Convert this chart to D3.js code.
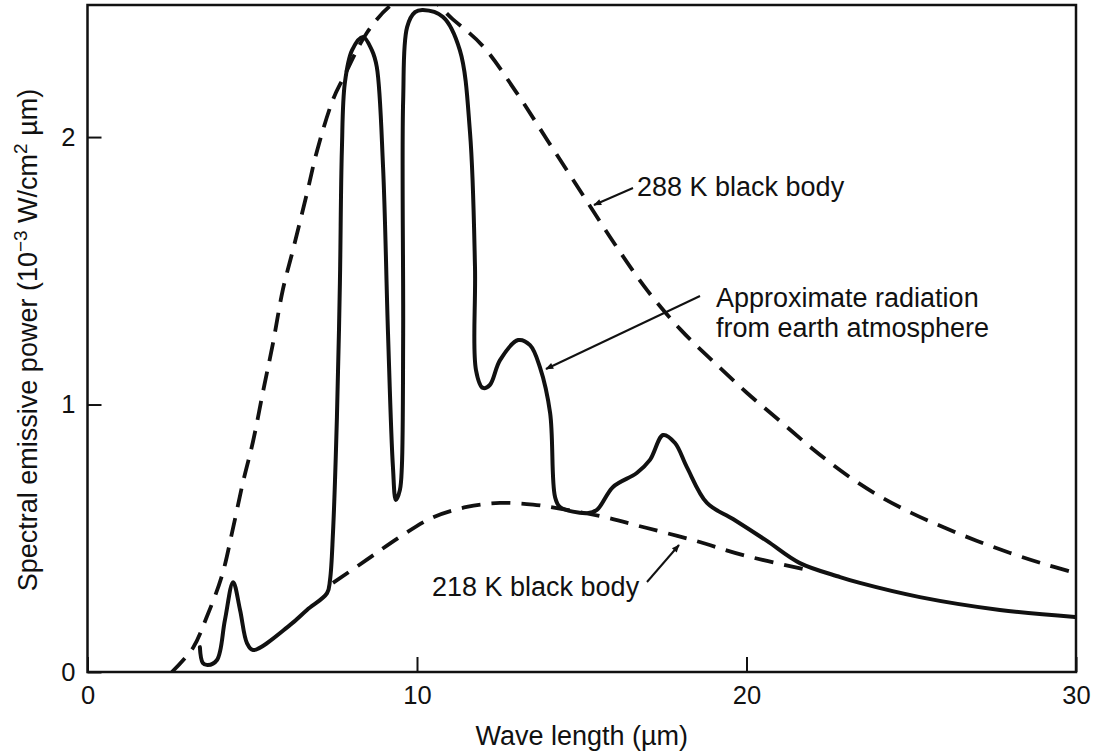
<!DOCTYPE html>
<html>
<head>
<meta charset="utf-8">
<script src="https://cdn.jsdelivr.net/npm/d3@7"></script>
<style>
  html, body { margin: 0; padding: 0; background: #fff; }
  svg { display: block; }
  text { font-family: "Liberation Sans", Arial, Helvetica, sans-serif; fill: #111; }
</style>
</head>
<body>
<svg id="chart" width="1096" height="752"></svg>
<script>
// ---- data ----
const xTicks = [0, 10, 20, 30];
const yTicks = [0, 1, 2];

const bb288Lambda = [2.56, 3.20, 3.6, 4.08, 4.42, 4.72, 5.02, 5.33, 5.63, 5.93, 6.24, 6.66, 6.97, 7.45, 7.76, 8.48, 9.18, 10.0, 11.09, 12.0, 13.0, 14.0, 15.0, 16.0, 17.0, 18.0, 19.0, 20.0, 21.0, 22.0, 23.0, 24.0, 25.0, 26.0, 27.0, 28.0, 29.0, 29.85];
const bb288Power  = [0.0, 0.09, 0.2, 0.36, 0.54, 0.71, 0.86, 1.05, 1.23, 1.43, 1.58, 1.79, 1.95, 2.14, 2.22, 2.39, 2.49, 2.55, 2.44, 2.34, 2.17, 1.98, 1.79, 1.60, 1.425, 1.28, 1.16, 1.045, 0.94, 0.835, 0.74, 0.66, 0.595, 0.54, 0.49, 0.445, 0.405, 0.375];

const bb218Lambda = [7.45, 8.48, 9.48, 10.48, 11.51, 12.52, 13.52, 14.04, 15.55, 16.86, 18.38, 19.9, 21.71];
const bb218Power  = [0.333, 0.42, 0.505, 0.578, 0.617, 0.632, 0.626, 0.617, 0.583, 0.542, 0.493, 0.437, 0.385];

const atmLambda = [3.41, 3.50, 3.65, 3.93, 4.17, 4.42, 4.63, 4.84, 5.02, 6.15, 6.66, 7.27, 7.36, 7.45, 7.57, 7.66, 7.72, 7.81, 8.03, 8.36, 8.63, 8.78, 8.97, 9.12, 9.27, 9.36, 9.48, 9.54, 9.58, 9.58, 9.70, 9.94, 10.18, 10.79, 11.30, 11.61, 11.76, 11.79, 12.00, 12.21, 12.52, 13.07, 13.43, 13.73, 14.04, 14.19, 14.34, 15.16, 15.46, 15.95, 16.67, 17.07, 17.47, 17.83, 18.19, 18.80, 19.59, 20.62, 21.62, 22.84, 23.44, 25.26, 27.69, 29.97];
const atmPower  = [0.093, 0.034, 0.026, 0.045, 0.194, 0.336, 0.232, 0.108, 0.082, 0.176, 0.232, 0.295, 0.344, 0.52, 0.953, 1.454, 1.951, 2.202, 2.325, 2.374, 2.325, 2.262, 1.888, 1.267, 0.766, 0.643, 0.68, 0.766, 1.267, 2.138, 2.411, 2.467, 2.475, 2.449, 2.325, 2.015, 1.514, 1.129, 1.062, 1.073, 1.166, 1.241, 1.222, 1.14, 0.968, 0.654, 0.617, 0.594, 0.606, 0.692, 0.744, 0.793, 0.886, 0.856, 0.766, 0.632, 0.572, 0.49, 0.407, 0.355, 0.333, 0.28, 0.232, 0.206];

const labels = {
  bb288: "288 K black body",
  bb218: "218 K black body",
  atm1: "Approximate radiation",
  atm2: "from earth atmosphere",
  xTitle: "Wave length (\u00b5m)"
};

// ---- layout ----
const L = 87.5, R = 1076, T = 5, B = 672;
const svg = d3.select("#chart");
const x = d3.scaleLinear().domain([0, 30]).range([L, R]);
const y = d3.scaleLinear().domain([0, 2.49]).range([B, T + 1]);

const defs = svg.append("defs");
defs.append("clipPath").attr("id", "plotclip")
  .append("rect").attr("x", L).attr("y", T).attr("width", R - L).attr("height", B - T);
defs.append("marker").attr("id", "arrow").attr("viewBox", "0 0 10 10")
  .attr("refX", 9).attr("refY", 5).attr("markerWidth", 11).attr("markerHeight", 8)
  .attr("markerUnits", "userSpaceOnUse").attr("orient", "auto")
  .append("path").attr("d", "M0,1 L10,5 L0,9 Z").attr("fill", "#111");

// axes
const xAxis = d3.axisBottom(x).tickValues(xTicks).tickSizeInner(-15).tickSizeOuter(0).tickPadding(14).tickFormat(d3.format("d"));
const yAxis = d3.axisLeft(y).tickValues(yTicks).tickSizeInner(-14).tickSizeOuter(0).tickPadding(12).tickFormat(d3.format("d"));

const gx = svg.append("g").attr("transform", `translate(0,${B})`).call(xAxis);
const gy = svg.append("g").attr("transform", `translate(${L},0)`).call(yAxis);
[gx, gy].forEach(g => {
  g.select(".domain").remove();
  g.selectAll(".tick line").attr("stroke", "#111").attr("stroke-width", 2);
  g.selectAll(".tick text").attr("font-size", 25.5).attr("fill", "#111")
    .attr("font-family", "'Liberation Sans', Arial, Helvetica, sans-serif");
});

// frame
svg.append("rect").attr("x", L).attr("y", T).attr("width", R - L).attr("height", B - T)
  .attr("fill", "none").attr("stroke", "#111").attr("stroke-width", 2.5);

// curves
const line = d3.line().x(d => x(d[0])).y(d => y(d[1])).curve(d3.curveCatmullRom.alpha(0.5));
const zip = (a, b) => a.map((v, i) => [v, b[i]]);

const plot = svg.append("g").attr("clip-path", "url(#plotclip)");
plot.append("path").datum(zip(bb288Lambda, bb288Power)).attr("d", line)
  .attr("fill", "none").attr("stroke", "#111").attr("stroke-width", 3.8)
  .attr("stroke-dasharray", "19,11");
plot.append("path").datum(zip(bb218Lambda, bb218Power)).attr("d", line)
  .attr("fill", "none").attr("stroke", "#111").attr("stroke-width", 3.8)
  .attr("stroke-dasharray", "19,11");
plot.append("path").datum(zip(atmLambda, atmPower)).attr("d", line)
  .attr("fill", "none").attr("stroke", "#111").attr("stroke-width", 4)
  .attr("stroke-linejoin", "round").attr("stroke-linecap", "round");

// annotations
const ann = svg.append("g").attr("font-size", 27);
ann.append("text").attr("x", 637).attr("y", 196).text(labels.bb288);
ann.append("text").attr("x", 716).attr("y", 307).text(labels.atm1);
ann.append("text").attr("x", 716).attr("y", 337).text(labels.atm2);
ann.append("text").attr("x", 432).attr("y", 596).text(labels.bb218);

const arrows = [
  [[633, 188], [594, 205]],
  [[700, 296], [546, 369]],
  [[647, 582], [679, 545]]
];
arrows.forEach(a => {
  svg.append("line").attr("x1", a[0][0]).attr("y1", a[0][1]).attr("x2", a[1][0]).attr("y2", a[1][1])
    .attr("stroke", "#111").attr("stroke-width", 2).attr("marker-end", "url(#arrow)");
});

// axis titles
svg.append("text").attr("x", (L + R) / 2).attr("y", 745).attr("text-anchor", "middle")
  .attr("font-size", 27).text(labels.xTitle);

const yt = svg.append("text").attr("transform", "translate(37,340) rotate(-90)")
  .attr("text-anchor", "middle").attr("font-size", 27);
yt.append("tspan").text("Spectral emissive power (10");
yt.append("tspan").attr("dy", -10).attr("font-size", 19).text("\u22123");
yt.append("tspan").attr("dy", 10).text(" W/cm");
yt.append("tspan").attr("dy", -10).attr("font-size", 19).text("2");
yt.append("tspan").attr("dy", 10).text(" \u00b5m)");
</script>
</body>
</html>
